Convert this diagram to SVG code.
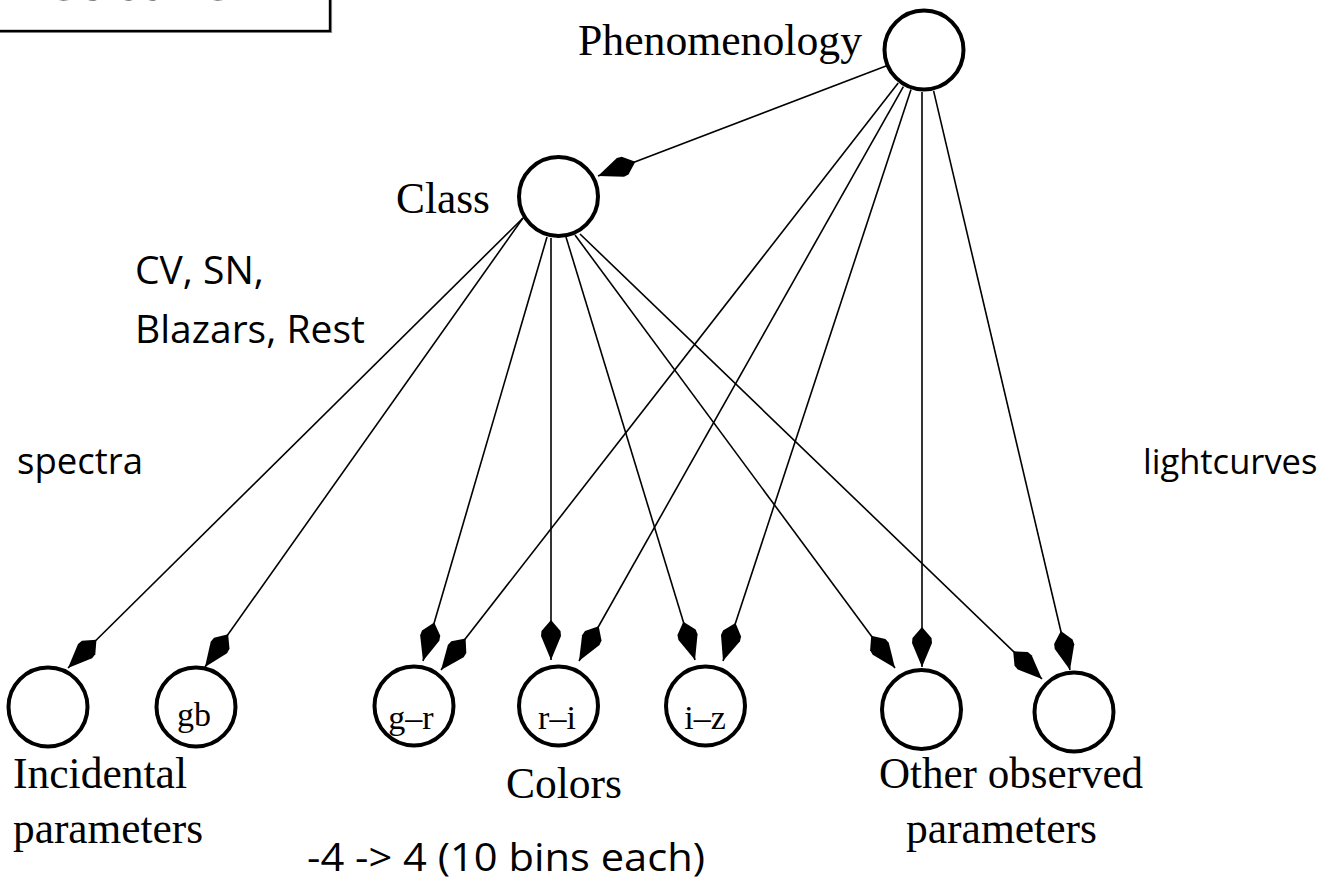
<svg xmlns="http://www.w3.org/2000/svg" width="1331" height="882" viewBox="0 0 1331 882">
<style>
.node{fill:#fff;stroke:#000;stroke-width:4}
.tl{font-family:"Liberation Serif","Times New Roman",serif;font-size:43.5px;fill:#000}
.nl{font-family:"Liberation Serif","Times New Roman",serif;font-size:34px;fill:#000;text-anchor:middle}
.an{font-family:"Open Sans","Liberation Sans",sans-serif;font-size:39px;fill:#000}
.edge{stroke:#000;stroke-width:1.6;fill:none;marker-end:url(#kite)}
</style>
<defs>
<marker id="kite" markerUnits="userSpaceOnUse" markerWidth="44" markerHeight="26" viewBox="-42 -13 44 26" refX="0" refY="0" orient="auto">
<path d="M0,0 L-24,-10 L-29,-9.5 L-40,0 L-29,9.5 L-24,10 Z" fill="#000"/>
</marker>
</defs>
<rect width="1331" height="882" fill="#fff"/>
<g id="title-box">
<line x1="-5" y1="32.5" x2="332" y2="32.5" stroke="#9a9a9a" stroke-width="1.2"/>
<line x1="331.5" y1="-5" x2="331.5" y2="33" stroke="#9a9a9a" stroke-width="1.2"/>
<rect x="-5" y="-5" width="335" height="36" fill="none" stroke="#000" stroke-width="2.4"/>
<text x="12" y="-0.3" font-family="Open Sans, Liberation Sans, sans-serif" font-size="56" textLength="221" lengthAdjust="spacingAndGlyphs">Feature</text>
</g>
<g id="connectors">
<line class="edge" x1="886" y1="66" x2="598" y2="176"/>
<line class="edge" x1="898.2" y1="83.1" x2="441" y2="670"/>
<line class="edge" x1="903.4" y1="86.6" x2="579" y2="661"/>
<line class="edge" x1="911" y1="89.5" x2="723" y2="661"/>
<line class="edge" x1="922" y1="92" x2="922" y2="667"/>
<line class="edge" x1="933.6" y1="90.9" x2="1070" y2="670"/>
<line class="edge" x1="523" y1="218" x2="68" y2="668"/>
<line class="edge" x1="523" y1="218" x2="205" y2="667"/>
<line class="edge" x1="547" y1="237" x2="423" y2="661"/>
<line class="edge" x1="551" y1="238" x2="551" y2="660"/>
<line class="edge" x1="566" y1="237" x2="695" y2="660"/>
<line class="edge" x1="575" y1="235" x2="895" y2="668"/>
<line class="edge" x1="580" y1="234" x2="1042" y2="679"/>
</g>
<g id="phenomenology">
<circle class="node" cx="924" cy="50" r="39.5"/>
<text class="tl" x="578" y="55" textLength="284" lengthAdjust="spacingAndGlyphs">Phenomenology</text>
</g>
<g id="class">
<circle class="node" cx="558.5" cy="196.5" r="39.5"/>
<text class="tl" x="396" y="213" textLength="94" lengthAdjust="spacingAndGlyphs">Class</text>
</g>
<g id="incidental">
<circle class="node" cx="48" cy="707" r="39.5"/>
</g>
<g id="gb">
<circle class="node" cx="196" cy="707" r="39.5"/>
<text class="nl" x="194" y="726">gb</text>
</g>
<g id="g-r">
<circle class="node" cx="414" cy="706" r="39.5"/>
<text class="nl" x="411" y="729">g–r</text>
</g>
<g id="r-i">
<circle class="node" cx="558.5" cy="706" r="39.5"/>
<text class="nl" x="557" y="729">r–i</text>
</g>
<g id="i-z">
<circle class="node" cx="705.5" cy="706" r="39.5"/>
<text class="nl" x="705" y="729">i–z</text>
</g>
<g id="other1">
<circle class="node" cx="921.5" cy="709.5" r="39.5"/>
</g>
<g id="other2">
<circle class="node" cx="1074" cy="712" r="39.5"/>
</g>
<g id="labels">
<text class="tl" x="13" y="788" textLength="174" lengthAdjust="spacingAndGlyphs">Incidental</text>
<text class="tl" x="13" y="843" textLength="190" lengthAdjust="spacingAndGlyphs">parameters</text>
<text class="tl" x="506" y="798" textLength="116" lengthAdjust="spacingAndGlyphs">Colors</text>
<text class="tl" x="879" y="788" textLength="264" lengthAdjust="spacingAndGlyphs">Other observed</text>
<text class="tl" x="906" y="843" textLength="191" lengthAdjust="spacingAndGlyphs">parameters</text>
</g>
<g id="annotations">
<text class="an" x="135" y="284">CV, SN,</text>
<text class="an" x="135" y="343">Blazars, Rest</text>
<text class="an" x="17" y="474" style="font-size:36.5px">spectra</text>
<text class="an" x="1143" y="474" style="font-size:34.5px">lightcurves</text>
<text class="an" x="307" y="871" textLength="398" lengthAdjust="spacingAndGlyphs">-4 -&gt; 4 (10 bins each)</text>
</g>
</svg>
